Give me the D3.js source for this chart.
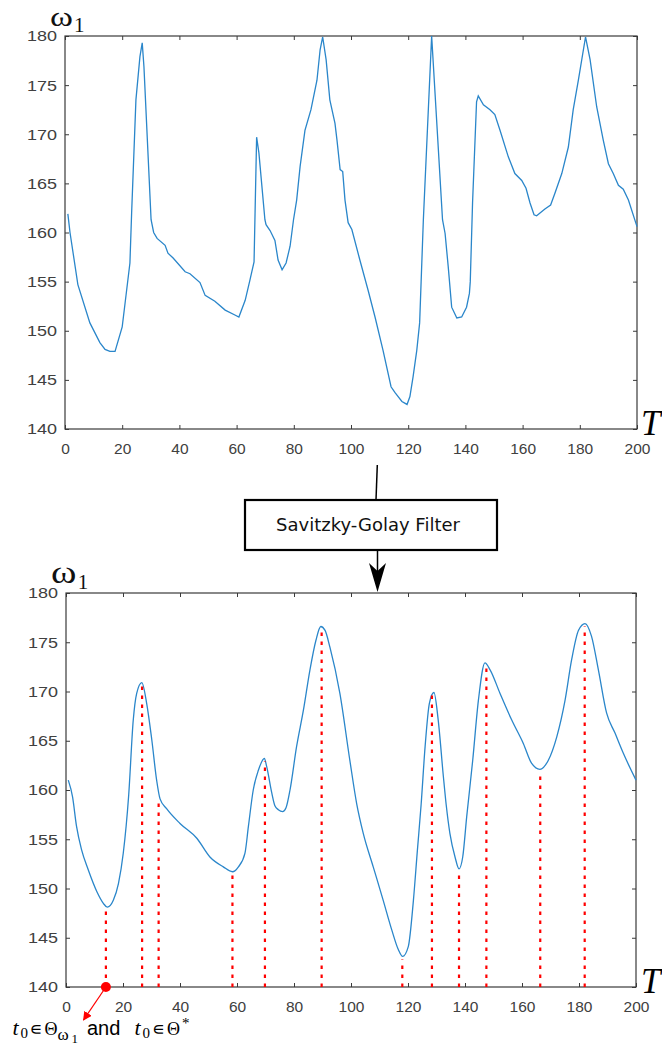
<!DOCTYPE html>
<html>
<head>
<meta charset="utf-8">
<script src="https://cdn.jsdelivr.net/npm/d3@7"></script>
<style>
  body { margin: 0; background: #fff; }
</style>
</head>
<body>
<script>
// raw omega_1 series (T, value)
const rawT = [1, 1.75, 4.5, 8.7, 12.2, 14, 15.7, 17.5, 20, 21, 22.7, 23.3, 24.8, 26.2, 27, 27.6, 30.1, 31, 32.2, 35, 36, 37.8, 42, 43.7, 47.2, 49, 52.4, 56, 59.4, 60.8, 63, 64.7, 66.1, 67, 67.8, 69.9, 70.3, 71.7, 73.4, 74.5, 75.9, 77.3, 78.7, 79.9, 81, 82.2, 83.9, 86, 88.1, 89.2, 90.1, 91.3, 92.6, 94.4, 95.1, 96.2, 97.1, 97.9, 99, 100.3, 103.1, 106, 108.4, 111.2, 114, 115.4, 117.8, 119.6, 120.6, 121.7, 123, 124, 125.3, 128.2, 132, 132.9, 134, 135.2, 137, 138.7, 140.4, 141.4, 141.7, 142.5, 143.9, 144.5, 146.3, 148.6, 150.3, 152.1, 155, 157.3, 159.7, 161.2, 162.6, 164, 164.9, 167.8, 169.8, 171.3, 173.7, 176, 177.7, 179.5, 182, 183.6, 185.9, 188.2, 190, 191.7, 193.5, 195.2, 197, 200];
const rawW = [161.9, 160, 154.7, 150.8, 148.8, 148.1, 147.9, 147.9, 150.4, 152.8, 156.9, 162, 173.5, 177.9, 179.3, 176.9, 161.3, 160, 159.4, 158.7, 157.9, 157.4, 156, 155.8, 154.9, 153.6, 153, 152.1, 151.6, 151.4, 153.1, 155.2, 157, 169.7, 168.1, 161.3, 160.8, 160.2, 159.2, 157.2, 156.2, 156.9, 158.6, 161.3, 163.3, 166.7, 170.4, 172.5, 175.5, 178.6, 179.9, 177.6, 173.5, 171.1, 169.4, 166.4, 166.2, 163.3, 161, 160.3, 157.2, 154.1, 151.4, 148, 144.3, 143.7, 142.8, 142.5, 143.3, 145.3, 148, 150.8, 161.3, 180, 161.3, 159.9, 156.5, 152.4, 151.3, 151.4, 152.4, 153.8, 155, 163, 173.3, 173.9, 173, 172.5, 172, 170.4, 167.7, 166, 165.3, 164.5, 163, 161.8, 161.7, 162.4, 162.8, 164, 166, 168.7, 172.5, 175.5, 179.9, 177.6, 172.8, 169.4, 167, 166, 164.8, 164.4, 163.3, 160.6];

// Savitzky-Golay filtered series
const smoothT = [0.8, 2.3, 3.7, 5.5, 7.8, 10.8, 13.1, 14.5, 16.6, 18.4, 20.1, 22, 23.6, 24.8, 26.6, 28.3, 30.1, 31.8, 33, 35.3, 40, 45.9, 50.5, 55.2, 58.4, 60.5, 62.8, 64, 65.7, 67.5, 69.6, 70.4, 72.2, 73.3, 74.5, 76, 77.2, 78.6, 80.9, 83.3, 85.6, 87.7, 89.4, 90.9, 92.6, 96.1, 99.6, 102, 104.3, 107.8, 111.3, 114.3, 116.6, 118.1, 120.1, 121.9, 123.3, 124.6, 126, 127.5, 129.1, 130.6, 132.4, 133.4, 134.7, 136.5, 137.9, 139.2, 140.6, 142.7, 144.7, 147, 148.8, 152.3, 156.4, 160.5, 163.4, 166.3, 169.2, 172.2, 175.1, 177.4, 179.8, 182.1, 184.4, 186.8, 189.7, 192.6, 195.6, 200];
const smoothW = [161, 159.3, 156.3, 153.9, 151.9, 149.7, 148.5, 148.1, 148.8, 150.5, 153.6, 159.5, 167.1, 169.8, 170.9, 168.8, 165.1, 161, 159.1, 158.1, 156.6, 155.1, 153.2, 152.2, 151.7, 152.2, 153.6, 156.3, 160, 162, 163.2, 162.4, 159.7, 158.4, 158, 157.8, 158.2, 160, 164.4, 168.1, 172.2, 175.2, 176.6, 176.2, 174.5, 169.8, 163, 158.6, 155.6, 152.2, 148.8, 145.8, 143.8, 143.1, 144.1, 148.8, 153.9, 158.5, 164.4, 168.8, 169.9, 167.1, 161.4, 158.5, 155.6, 153.2, 152, 153.2, 157.3, 163, 169.1, 172.9, 172.2, 169.8, 167.1, 164.7, 162.7, 162.1, 163, 165.4, 169.1, 173.2, 176.2, 176.9, 175.6, 172.2, 167.8, 165.8, 163.7, 161];

// extrema marked with red dotted stems
const stemT = [14, 26.7, 32.5, 58.4, 69.8, 89.7, 118, 128.4, 137.9, 147.5, 166.4, 182];
const stemW = [148.1, 170.9, 159.1, 151.7, 163.2, 176.6, 143.1, 169.9, 152, 172.9, 162.1, 176.9];

const xTicks = [0, 20, 40, 60, 80, 100, 120, 140, 160, 180, 200];
const yTicks = [140, 145, 150, 155, 160, 165, 170, 175, 180];
const startT = 14;

const svg = d3.select("body").append("svg")
  .attr("width", 662)
  .attr("height", 1048)
  .style("background", "#fff");

const axisColor = "#3a3a3a";
const lineColor = "#2a86ca";
const sans = "'Liberation Sans', Arial, sans-serif";
const serif = "'Liberation Serif', 'DejaVu Serif', serif";

function drawPanel(box, T, W, curve, omegaSize) {
  const x = d3.scaleLinear().domain([0, 200]).range([box.left, box.right]);
  const y = d3.scaleLinear().domain([140, 180]).range([box.bottom, box.top]);
  const g = svg.append("g");

  const styleAxis = sel => {
    sel.select(".domain").remove();
    sel.selectAll("line").attr("stroke", axisColor);
    sel.selectAll("text")
      .attr("font-family", sans)
      .attr("font-size", 15.5)
      .attr("fill", "#404040");
  };

  g.append("g")
    .attr("transform", `translate(0,${box.bottom})`)
    .call(d3.axisBottom(x).tickValues(xTicks).tickSizeInner(-4).tickSizeOuter(0).tickPadding(13.5))
    .call(styleAxis);
  g.append("g")
    .attr("transform", `translate(0,${box.top})`)
    .call(d3.axisTop(x).tickValues(xTicks).tickSizeInner(-4).tickSizeOuter(0).tickFormat(""))
    .call(styleAxis);
  g.append("g")
    .attr("transform", `translate(${box.left},0)`)
    .call(d3.axisLeft(y).tickValues(yTicks).tickSizeInner(-4).tickSizeOuter(0).tickPadding(8))
    .call(styleAxis)
    .selectAll("text")
    .attr("textLength", 30)
    .attr("lengthAdjust", "spacingAndGlyphs");
  g.append("g")
    .attr("transform", `translate(${box.right},0)`)
    .call(d3.axisRight(y).tickValues(yTicks).tickSizeInner(-4).tickSizeOuter(0).tickFormat(""))
    .call(styleAxis);

  g.append("rect")
    .attr("x", box.left)
    .attr("y", box.top)
    .attr("width", box.right - box.left)
    .attr("height", box.bottom - box.top)
    .attr("fill", "none")
    .attr("stroke", axisColor)
    .attr("stroke-width", 1.2);

  const line = d3.line()
    .x(i => x(T[i]))
    .y(i => y(W[i]))
    .curve(curve);

  g.append("path")
    .attr("d", line(d3.range(T.length)))
    .attr("fill", "none")
    .attr("stroke", lineColor)
    .attr("stroke-width", 1.3);

  // omega_1 label
  g.append("text")
    .attr("x", box.left - 15)
    .attr("y", box.top - 10)
    .attr("font-family", serif)
    .attr("font-size", omegaSize)
    .attr("textLength", omegaSize * 0.82)
    .attr("lengthAdjust", "spacingAndGlyphs")
    .attr("fill", "#111")
    .text("ω");
  g.append("text")
    .attr("x", box.left - 15 + omegaSize * 0.86)
    .attr("y", box.top - 4)
    .attr("font-family", serif)
    .attr("font-size", 21)
    .attr("fill", "#111")
    .text("1");

  // T label
  g.append("text")
    .attr("x", 641)
    .attr("y", box.bottom + 6)
    .attr("font-family", serif)
    .attr("font-style", "italic")
    .attr("font-size", 35)
    .attr("fill", "#000")
    .text("T");

  return { x, y, g };
}

const topPanel = drawPanel({ left: 65, right: 637, top: 36, bottom: 429 }, rawT, rawW, d3.curveLinear, 28);
const botPanel = drawPanel({ left: 66, right: 636, top: 593, bottom: 987 }, smoothT, smoothW, d3.curveMonotoneX, 31);

// red dotted stems at extrema
botPanel.g.selectAll(".stem")
  .data(d3.range(stemT.length))
  .join("line")
  .attr("class", "stem")
  .attr("x1", i => botPanel.x(stemT[i]))
  .attr("x2", i => botPanel.x(stemT[i]))
  .attr("y1", i => botPanel.y(140))
  .attr("y2", i => botPanel.y(stemW[i]) + 3)
  .attr("stroke", "#ff0000")
  .attr("stroke-width", 2.2)
  .attr("stroke-dasharray", "3.5,5.5");

// start point marker + arrow
const sx = botPanel.x(startT), sy = botPanel.y(140);
botPanel.g.append("circle")
  .attr("cx", sx).attr("cy", sy).attr("r", 5)
  .attr("fill", "#ff0000");

const defs = svg.append("defs");
defs.append("marker")
  .attr("id", "redhead")
  .attr("viewBox", "0 0 10 10")
  .attr("refX", 9).attr("refY", 5)
  .attr("markerWidth", 9).attr("markerHeight", 9)
  .attr("markerUnits", "userSpaceOnUse")
  .attr("orient", "auto")
  .append("path")
  .attr("d", "M0,0 L10,5 L0,10 Z")
  .attr("fill", "#ff0000");

svg.append("line")
  .attr("x1", sx).attr("y1", sy)
  .attr("x2", 83.5).attr("y2", 1020)
  .attr("stroke", "#ff0000")
  .attr("stroke-width", 1.2)
  .attr("marker-end", "url(#redhead)");

// annotation text
const mathSym = "'DejaVu Sans', sans-serif";
function txt(x, y, s, opts) {
  const t = svg.append("text").attr("x", x).attr("y", y).text(s)
    .attr("fill", "#000")
    .attr("font-family", opts.family || serif)
    .attr("font-size", opts.size || 20);
  if (opts.italic) t.attr("font-style", "italic");
  return t;
}
txt(12.5, 1035, "t", { italic: true, size: 22 });
txt(20.5, 1038, "0", { size: 15 });
txt(29.5, 1035, "∊", { family: mathSym, size: 18 });
txt(44.5, 1035, "Θ", { size: 18 });
txt(57.5, 1040, "ω", { size: 17 });
txt(71.5, 1043, "1", { size: 13 });
txt(87, 1035, "and", { family: sans, size: 20 });
txt(134.5, 1035, "t", { italic: true, size: 22 });
txt(142.5, 1038, "0", { size: 15 });
txt(152, 1035, "∊", { family: mathSym, size: 18 });
txt(167, 1035, "Θ", { size: 18 });
txt(182, 1028, "*", { size: 15 });

// Savitzky-Golay box with connecting arrows
svg.append("line")
  .attr("x1", 377.3).attr("y1", 465)
  .attr("x2", 376).attr("y2", 500)
  .attr("stroke", "#000").attr("stroke-width", 1.5);

svg.append("rect")
  .attr("x", 245).attr("y", 500)
  .attr("width", 252).attr("height", 50)
  .attr("fill", "#fff")
  .attr("stroke", "#000")
  .attr("stroke-width", 2.2);

svg.append("text")
  .attr("x", 368).attr("y", 525)
  .attr("dy", "0.36em")
  .attr("text-anchor", "middle")
  .attr("font-family", "'DejaVu Sans', Verdana, sans-serif")
  .attr("font-size", 18)
  .attr("fill", "#111")
  .text("Savitzky-Golay Filter");

svg.append("line")
  .attr("x1", 377.5).attr("y1", 551)
  .attr("x2", 377.5).attr("y2", 575)
  .attr("stroke", "#000").attr("stroke-width", 1.5);

svg.append("path")
  .attr("d", "M377.5,592 L369,563 L377.5,571 L386,563 Z")
  .attr("fill", "#000");
</script>
</body>
</html>
